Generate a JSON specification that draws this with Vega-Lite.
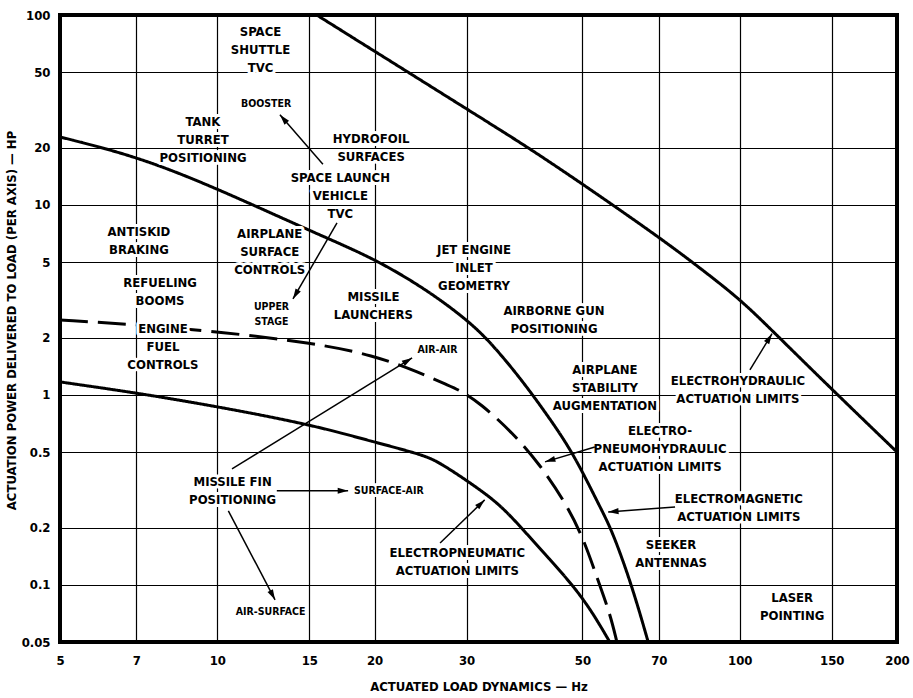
{
  "$schema": "https://vega.github.io/schema/vega-lite/v6.json",
  "width": 837,
  "height": 627,
  "autosize": {"type": "none"},
  "padding": {"left": 60, "top": 15, "right": 16, "bottom": 56},
  "background": "white",
  "config": {
    "view": {"stroke": "black", "strokeWidth": 4},
    "font": "Liberation Sans Narrow, DejaVu Sans Condensed, Roboto, sans-serif",
    "axis": {
      "gridColor": "black",
      "gridOpacity": 1,
      "gridWidth": 1.2,
      "domain": false,
      "ticks": false,
      "tickSize": 0,
      "labelFont": "Liberation Sans Narrow, DejaVu Sans Condensed, Roboto, sans-serif",
      "labelFontSize": 13,
      "labelFontWeight": "bold",
      "labelColor": "black",
      "titleFont": "Liberation Sans Narrow, DejaVu Sans Condensed, Roboto, sans-serif",
      "titleFontSize": 13,
      "titleFontWeight": "bold",
      "titleColor": "black",
      "labelOverlap": false,
      "labelFlush": false
    }
  },
  "datasets": {
    "curves": [
      {"series": "EH", "x": 15.5, "y": 100},
      {"series": "EH", "x": 31.8, "y": 29.0},
      {"series": "EH", "x": 39.2, "y": 20.2},
      {"series": "EH", "x": 49.4, "y": 13.2},
      {"series": "EH", "x": 70.4, "y": 6.71},
      {"series": "EH", "x": 83.9, "y": 4.66},
      {"series": "EH", "x": 100, "y": 3.2},
      {"series": "EH", "x": 115, "y": 2.2},
      {"series": "EH", "x": 147, "y": 1.13},
      {"series": "EH", "x": 200, "y": 0.5},
      {"series": "EM", "x": 5, "y": 22.8},
      {"series": "EM", "x": 7.08, "y": 17.9},
      {"series": "EM", "x": 10.07, "y": 12.1},
      {"series": "EM", "x": 15.2, "y": 7.21},
      {"series": "EM", "x": 19.9, "y": 5.26},
      {"series": "EM", "x": 25.2, "y": 3.57},
      {"series": "EM", "x": 30.1, "y": 2.48},
      {"series": "EM", "x": 33.3, "y": 1.9},
      {"series": "EM", "x": 38.0, "y": 1.229},
      {"series": "EM", "x": 42.8, "y": 0.785},
      {"series": "EM", "x": 48.0, "y": 0.495},
      {"series": "EM", "x": 54.0, "y": 0.257},
      {"series": "EM", "x": 56.9, "y": 0.195},
      {"series": "EM", "x": 62.2, "y": 0.099},
      {"series": "EM", "x": 66.8, "y": 0.05},
      {"series": "EPH", "x": 5, "y": 2.48},
      {"series": "EPH", "x": 7.08, "y": 2.34},
      {"series": "EPH", "x": 10.07, "y": 2.15},
      {"series": "EPH", "x": 15.2, "y": 1.88},
      {"series": "EPH", "x": 19.9, "y": 1.62},
      {"series": "EPH", "x": 24.4, "y": 1.31},
      {"series": "EPH", "x": 27.5, "y": 1.13},
      {"series": "EPH", "x": 29.1, "y": 1.06},
      {"series": "EPH", "x": 31.8, "y": 0.908},
      {"series": "EPH", "x": 36.8, "y": 0.63},
      {"series": "EPH", "x": 41.5, "y": 0.428},
      {"series": "EPH", "x": 46.3, "y": 0.273},
      {"series": "EPH", "x": 50.1, "y": 0.179},
      {"series": "EPH", "x": 53.5, "y": 0.106},
      {"series": "EPH", "x": 56.4, "y": 0.0712},
      {"series": "EPH", "x": 58.2, "y": 0.05},
      {"series": "EPn", "x": 5, "y": 1.17},
      {"series": "EPn", "x": 7.08, "y": 1.02},
      {"series": "EPn", "x": 10.07, "y": 0.865},
      {"series": "EPn", "x": 15.2, "y": 0.695},
      {"series": "EPn", "x": 19.9, "y": 0.566},
      {"series": "EPn", "x": 24.8, "y": 0.483},
      {"series": "EPn", "x": 26.7, "y": 0.439},
      {"series": "EPn", "x": 30.9, "y": 0.336},
      {"series": "EPn", "x": 34.8, "y": 0.264},
      {"series": "EPn", "x": 38.5, "y": 0.195},
      {"series": "EPn", "x": 43.0, "y": 0.139},
      {"series": "EPn", "x": 48.0, "y": 0.099},
      {"series": "EPn", "x": 52.2, "y": 0.072},
      {"series": "EPn", "x": 56.4, "y": 0.05}
    ],
    "labels": [
      {"text": "SPACE\nSHUTTLE\nTVC", "kind": "main", "x": 12.1, "y": 81.4},
      {"text": "BOOSTER", "kind": "note", "x": 12.4, "y": 34.0},
      {"text": "TANK\nTURRET\nPOSITIONING", "kind": "main", "x": 9.39, "y": 27.3},
      {"text": "HYDROFOIL\nSURFACES", "kind": "main", "x": 19.7, "y": 22.3},
      {"text": "SPACE LAUNCH\nVEHICLE\nTVC", "kind": "main", "x": 17.2, "y": 13.9},
      {"text": "ANTISKID\nBRAKING", "kind": "main", "x": 7.08, "y": 7.21},
      {"text": "AIRPLANE\nSURFACE\nCONTROLS", "kind": "main", "x": 12.6, "y": 7.04},
      {"text": "REFUELING\nBOOMS", "kind": "main", "x": 7.77, "y": 3.89},
      {"text": "UPPER\nSTAGE", "kind": "note", "x": 12.7, "y": 2.9},
      {"text": "MISSILE\nLAUNCHERS", "kind": "main", "x": 19.9, "y": 3.28},
      {"text": "JET ENGINE\nINLET\nGEOMETRY", "kind": "main", "x": 31.0, "y": 5.8},
      {"text": "AIRBORNE GUN\nPOSITIONING", "kind": "main", "x": 44.1, "y": 2.77},
      {"text": "AIRPLANE\nSTABILITY\nAUGMENTATION", "kind": "main", "x": 55.2, "y": 1.354},
      {"text": "ELECTROHYDRAULIC\nACTUATION LIMITS", "kind": "main", "x": 99.2, "y": 1.185},
      {"text": "ELECTRO-\nPNEUMOHYDRAULIC\nACTUATION LIMITS", "kind": "main", "x": 70.4, "y": 0.646},
      {"text": "ELECTROMAGNETIC\nACTUATION LIMITS", "kind": "main", "x": 99.6, "y": 0.2836},
      {"text": "SEEKER\nANTENNAS", "kind": "main", "x": 73.9, "y": 0.1624},
      {"text": "LASER\nPOINTING", "kind": "main", "x": 126, "y": 0.0854},
      {"text": "ENGINE\nFUEL\nCONTROLS", "kind": "main", "x": 7.87, "y": 2.225},
      {"text": "AIR-AIR", "kind": "note", "x": 26.4, "y": 1.725},
      {"text": "MISSILE FIN\nPOSITIONING", "kind": "main", "x": 10.7, "y": 0.3484},
      {"text": "SURFACE-AIR", "kind": "note", "x": 21.3, "y": 0.3125},
      {"text": "AIR-SURFACE", "kind": "note", "x": 12.65, "y": 0.0721},
      {"text": "ELECTROPNEUMATIC\nACTUATION LIMITS", "kind": "main", "x": 28.8, "y": 0.1474}
    ],
    "arrows": [
      {"x": 15.93, "y": 16.4, "x2": 13.18, "y2": 29.8, "angle": 318.7},
      {"x": 16.95, "y": 8.04, "x2": 13.96, "y2": 3.2, "angle": 210.1},
      {"x": 10.67, "y": 0.408, "x2": 23.6, "y2": 1.566, "angle": 58.3},
      {"x": 13.0, "y": 0.3125, "x2": 17.8, "y2": 0.3125, "angle": 90},
      {"x": 10.5, "y": 0.245, "x2": 12.9, "y2": 0.0834, "angle": 152.2},
      {"x": 26.7, "y": 0.166, "x2": 32.5, "y2": 0.28, "angle": 46.3},
      {"x": 52.8, "y": 0.532, "x2": 42.4, "y2": 0.444, "angle": 253.3},
      {"x": 75.2, "y": 0.257, "x2": 56.0, "y2": 0.242, "angle": 265.7},
      {"x": 104.6, "y": 1.354, "x2": 115.3, "y2": 2.1, "angle": 31.4}
    ]
  },
  "layer": [
    {
      "data": {"name": "curves"},
      "mark": {"type": "line", "color": "black", "strokeWidth": 3, "interpolate": "basis", "clip": true},
      "encoding": {
        "x": {
          "field": "x", "type": "quantitative",
          "scale": {"type": "log", "domain": [5, 200], "nice": false},
          "axis": {
            "values": [5, 7, 10, 15, 20, 30, 50, 70, 100, 150, 200],
            "format": "~g",
            "title": "ACTUATED LOAD DYNAMICS — Hz",
            "grid": true,
            "labelPadding": 12,
            "titlePadding": 13
          }
        },
        "y": {
          "field": "y", "type": "quantitative",
          "scale": {"type": "log", "domain": [0.05, 100], "nice": false},
          "axis": {
            "values": [0.05, 0.1, 0.2, 0.5, 1, 2, 5, 10, 20, 50, 100],
            "format": "~g",
            "title": "ACTUATION POWER DELIVERED TO LOAD (PER AXIS) — HP",
            "grid": true,
            "labelPadding": 10,
            "titleX": -42,
            "titleY": 305
          }
        },
        "strokeDash": {
          "field": "series", "type": "nominal",
          "scale": {"domain": ["EH", "EM", "EPH", "EPn"], "range": [[1, 0], [1, 0], [28, 10], [1, 0]]},
          "legend": null
        }
      }
    },
    {
      "data": {"name": "labels"},
      "transform": [{"filter": "datum.kind === 'main'"}],
      "mark": {"type": "text", "align": "center", "baseline": "middle", "lineBreak": "\n", "lineHeight": 18, "fontSize": 13, "fontWeight": "bold", "fill": "white", "stroke": "white", "strokeWidth": 6, "strokeJoin": "round"},
      "encoding": {
        "x": {"field": "x", "type": "quantitative"},
        "y": {"field": "y", "type": "quantitative"},
        "text": {"field": "text"}
      }
    },
    {
      "data": {"name": "labels"},
      "transform": [{"filter": "datum.kind === 'note'"}],
      "mark": {"type": "text", "align": "center", "baseline": "middle", "lineBreak": "\n", "lineHeight": 15, "fontSize": 10.5, "fontWeight": "bold", "fill": "white", "stroke": "white", "strokeWidth": 6, "strokeJoin": "round"},
      "encoding": {
        "x": {"field": "x", "type": "quantitative"},
        "y": {"field": "y", "type": "quantitative"},
        "text": {"field": "text"}
      }
    },
    {
      "data": {"name": "arrows"},
      "mark": {"type": "rule", "color": "black", "strokeWidth": 1.5},
      "encoding": {
        "x": {"field": "x", "type": "quantitative"},
        "y": {"field": "y", "type": "quantitative"},
        "x2": {"field": "x2"},
        "y2": {"field": "y2"}
      }
    },
    {
      "data": {"name": "arrows"},
      "mark": {"type": "point", "filled": true, "color": "black", "opacity": 1, "size": 300, "shape": "M0,0L0.35,1.2L-0.35,1.2Z"},
      "encoding": {
        "x": {"field": "x2", "type": "quantitative"},
        "y": {"field": "y2", "type": "quantitative"},
        "angle": {"field": "angle", "type": "quantitative", "scale": null}
      }
    },
    {
      "data": {"name": "labels"},
      "transform": [{"filter": "datum.kind === 'main'"}],
      "mark": {"type": "text", "align": "center", "baseline": "middle", "lineBreak": "\n", "lineHeight": 18, "fontSize": 13, "fontWeight": "bold", "color": "black"},
      "encoding": {
        "x": {"field": "x", "type": "quantitative"},
        "y": {"field": "y", "type": "quantitative"},
        "text": {"field": "text"}
      }
    },
    {
      "data": {"name": "labels"},
      "transform": [{"filter": "datum.kind === 'note'"}],
      "mark": {"type": "text", "align": "center", "baseline": "middle", "lineBreak": "\n", "lineHeight": 15, "fontSize": 10.5, "fontWeight": "bold", "color": "black"},
      "encoding": {
        "x": {"field": "x", "type": "quantitative"},
        "y": {"field": "y", "type": "quantitative"},
        "text": {"field": "text"}
      }
    }
  ]
}
